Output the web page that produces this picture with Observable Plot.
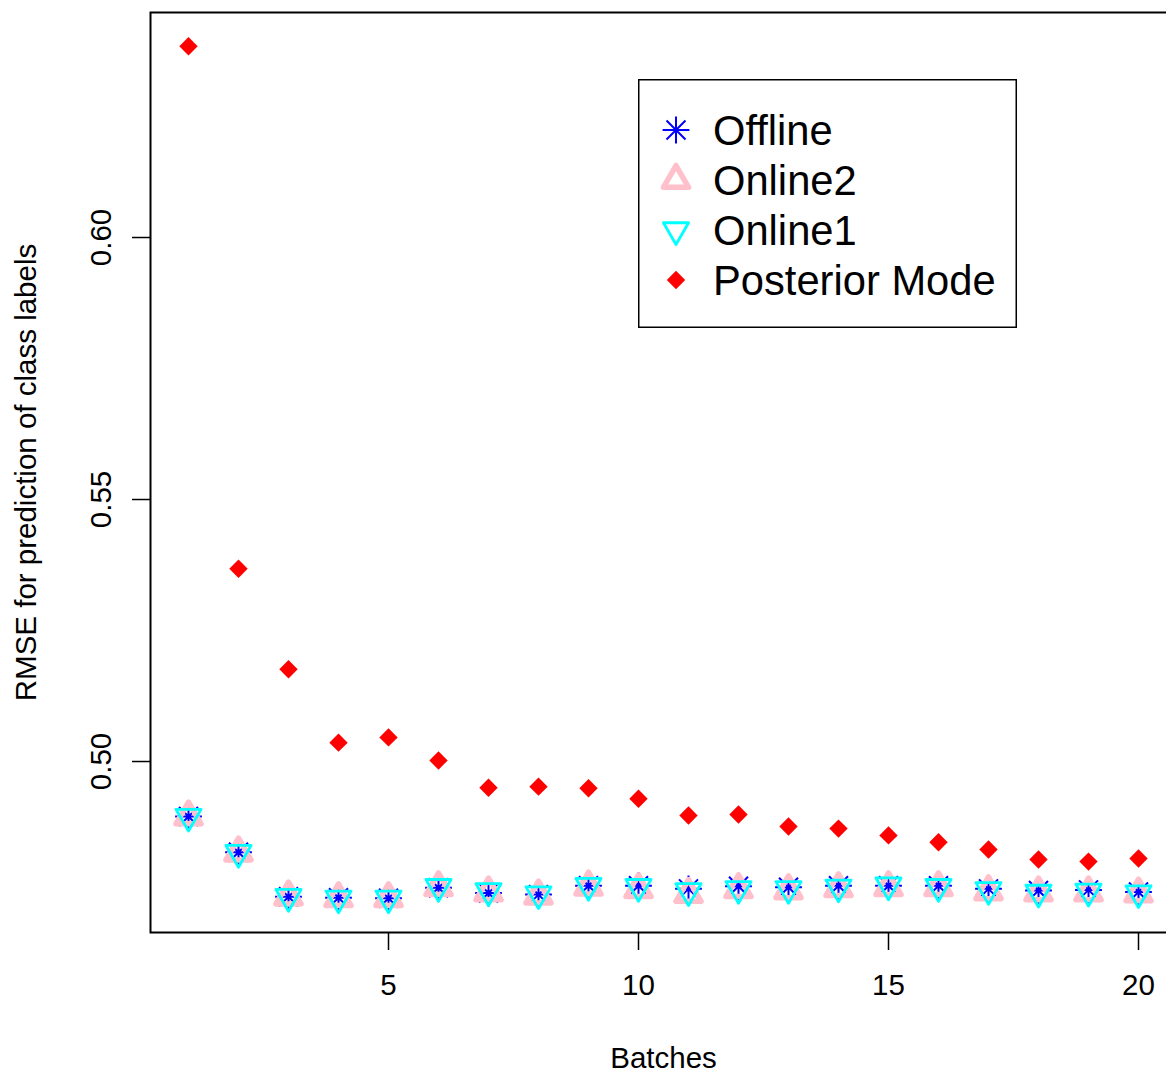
<!DOCTYPE html>
<html><head><meta charset="utf-8">
<script src="https://cdn.jsdelivr.net/npm/d3@7"></script>
<script src="https://cdn.jsdelivr.net/npm/@observablehq/plot@0.6"></script>
<style>
html,body{margin:0;padding:0;background:#fff;overflow:hidden;}
#wrap{position:relative;width:1166px;height:1072px;overflow:hidden;}
#legend{position:absolute;left:638px;top:79px;}
</style></head><body>
<div id="wrap"></div>
<script>
// ---- data ----
const batches = [1,2,3,4,5,6,7,8,9,10,11,12,13,14,15,16,17,18,19,20];
const offline = [0.4895,0.4827,0.4742,0.4740,0.4739,0.4759,0.4749,0.4746,0.4763,0.4763,0.4757,0.4762,0.4760,0.4763,0.4763,0.4763,0.4757,0.4754,0.4755,0.4751];
const online2 = [0.4895,0.4826,0.4742,0.4739,0.4739,0.4760,0.4750,0.4744,0.4761,0.4756,0.4747,0.4756,0.4754,0.4758,0.4760,0.4760,0.4752,0.4750,0.4750,0.4748];
const online1 = [0.4895,0.4826,0.4742,0.4739,0.4739,0.4761,0.4753,0.4747,0.4763,0.4761,0.4753,0.4757,0.4757,0.4760,0.4764,0.4761,0.4755,0.4750,0.4752,0.4749];
const posteriorMode = [0.6365,0.5368,0.5176,0.5036,0.5046,0.5002,0.4950,0.4952,0.4949,0.4929,0.4897,0.4899,0.4876,0.4872,0.4859,0.4846,0.4832,0.4813,0.4809,0.4815];
const seriesNames = ["Offline","Online2","Online1","Posterior Mode"];
const seriesColors = ["#0000FF","#FFC0CB","#00FFFF","#FF0000"];
const xTicks = [5,10,15,20];
const yTicks = [0.50,0.55,0.60];
const xDomain = [0.24, 20.76];
const yDomain = [0.46737, 0.64294];
const xLabel = "Batches";
const yLabel = "RMSE for prediction of class labels";

// ---- symbols (R pch 8, 2, 6, 18) ----
const asterisk = {draw(ctx){const a=13.4,d=9.5;ctx.moveTo(-a,0);ctx.lineTo(a,0);ctx.moveTo(0,-a);ctx.lineTo(0,a);ctx.moveTo(-d,-d);ctx.lineTo(d,d);ctx.moveTo(-d,d);ctx.lineTo(d,-d);}};
function tri(r, up){return {draw(ctx){const h=r*Math.sqrt(3)/2, s=up?1:-1;ctx.moveTo(0,-s*r);ctx.lineTo(h,s*r/2);ctx.lineTo(-h,s*r/2);ctx.closePath();}};}
const upTri = tri(14.5,true), downTri = tri(14.5,false);
const diamond = {draw(ctx){const d=9.2;ctx.moveTo(0,-d);ctx.lineTo(d,0);ctx.lineTo(0,d);ctx.lineTo(-d,0);ctx.closePath();}};
const symStyles = [
  {symbol: asterisk, fill:"none", stroke: seriesColors[0], strokeWidth: 2},
  {symbol: upTri, fill:"none", stroke: seriesColors[1], strokeWidth: 5.5, strokeLinejoin:"round"},
  {symbol: downTri, fill:"none", stroke: seriesColors[2], strokeWidth: 2.8, strokeLinejoin:"round"},
  {symbol: diamond, fill: seriesColors[3], stroke:"none"}
];
const seriesValues = [offline, online2, online1, posteriorMode];
const rows = vals => batches.map((b,i)=>({batch:b, value:vals[i]}));

const font = "'Liberation Sans', Arial, Helvetica, sans-serif";
const chart = Plot.plot({
  width:1166, height:1072,
  marginLeft:150, marginRight:-10, marginTop:12, marginBottom:140,
  style:{fontFamily:font, fontSize:"29.5px", color:"black", background:"white", overflow:"hidden"},
  x:{domain:xDomain},
  y:{domain:yDomain},
  marks:[
    Plot.frame({stroke:"black", strokeWidth:2}),
    Plot.axisX({ticks:xTicks, tickSize:18, tickPadding:24, strokeWidth:1.5, tickFormat:d=>String(d),
      label:xLabel, labelAnchor:"center", labelOffset:135, labelArrow:"none"}),
    Plot.axisY({ticks:yTicks, tickSize:18, tickPadding:22, strokeWidth:1.5, tickFormat:d3.format(".2f"), tickRotate:-90,
      label:yLabel, labelAnchor:"center", labelOffset:135, labelArrow:"none"}),
    ...seriesValues.map((vals,k)=>Plot.dot(rows(vals), {x:"batch", y:"value", r:10, ...symStyles[k]}))
  ]
});
const wrap = document.getElementById("wrap");
wrap.appendChild(chart);

// ---- legend ----
const W=379, H=249, fs=41.7;
const leg = d3.select(wrap).append("svg").attr("id","legend").attr("width",W).attr("height",H)
  .style("font-family",font);
leg.append("rect").attr("x",0.75).attr("y",0.75).attr("width",W-1.5).attr("height",H-1.5)
  .attr("fill","white").attr("stroke","black").attr("stroke-width",1.5);
seriesNames.forEach((name,k)=>{
  const cy = 51 + 50*k;
  const p = d3.path(); symStyles[k].symbol.draw(p);
  const st = symStyles[k];
  leg.append("path").attr("d",p.toString()).attr("transform",`translate(38,${cy})`)
    .attr("fill",st.fill).attr("stroke",st.stroke).attr("stroke-width",st.strokeWidth||0)
    .attr("stroke-linejoin",st.strokeLinejoin||"miter");
  leg.append("text").attr("x",75).attr("y",cy+0.35*fs).attr("font-size",fs).attr("fill","black").text(name);
});
</script>
</body></html>
